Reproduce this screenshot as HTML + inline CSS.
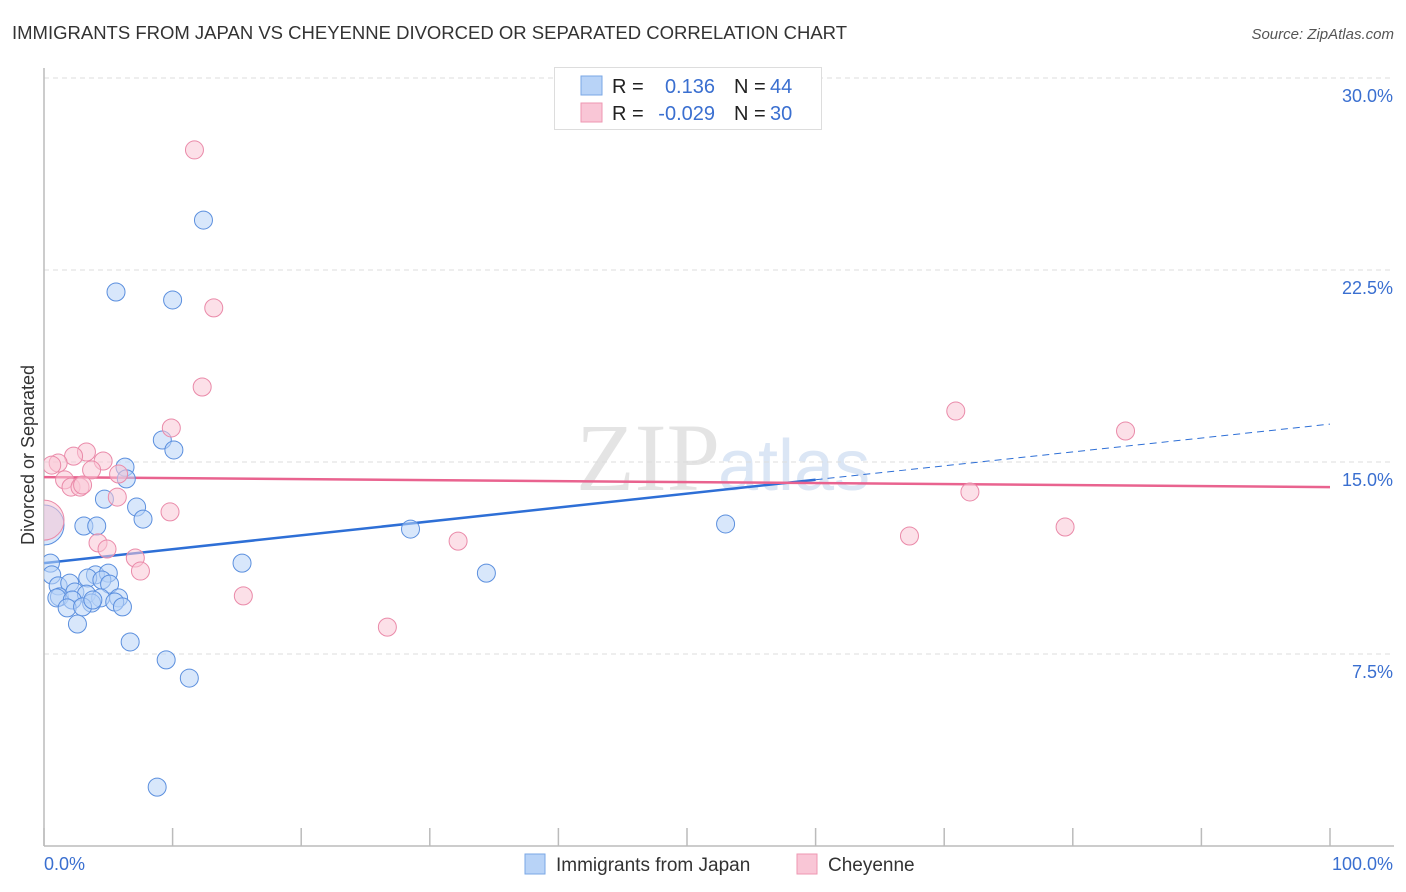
<!DOCTYPE html>
<html><head><meta charset="utf-8"><style>
body{margin:0;background:#fff;font-family:"Liberation Sans",sans-serif;}
#wrap{position:relative;width:1406px;height:892px;overflow:hidden;}
</style></head><body>
<div id="wrap">
<svg id="svg" width="1406" height="892" xmlns="http://www.w3.org/2000/svg" font-family="Liberation Sans, sans-serif">
<defs><clipPath id="plotclip"><rect x="44" y="60" width="1360" height="786"/></clipPath></defs>
<text x="12" y="39" font-size="18.5" fill="#333">IMMIGRANTS FROM JAPAN VS CHEYENNE DIVORCED OR SEPARATED CORRELATION CHART</text>
<text x="1394" y="39" font-size="15" fill="#555" font-style="italic" text-anchor="end">Source: ZipAtlas.com</text>
<text x="720" y="490" font-size="96" fill="#e4e4e4" text-anchor="end" font-family="Liberation Serif, serif">ZIP</text>
<text x="718" y="490" font-size="72" fill="#dbe6f5">atlas</text>
<text transform="translate(34,455) rotate(-90)" font-size="18" fill="#333" text-anchor="middle">Divorced or Separated</text>
<g id="grid"></g><g id="axes"></g><g id="trend"></g><g id="pts" clip-path="url(#plotclip)"></g>
<g>
<rect x="554.5" y="67.5" width="267" height="62" fill="#fff" stroke="#ddd"/>
<rect x="581" y="76" width="21" height="19" fill="#b8d3f7" stroke="#7aa7e6"/>
<rect x="581" y="103" width="21" height="19" fill="#f9c6d6" stroke="#ee97b2"/>
<text x="612" y="93" font-size="20" fill="#222">R =</text><text x="715" y="93" font-size="20" fill="#3a6fd0" text-anchor="end">0.136</text>
<text x="734" y="93" font-size="20" fill="#222">N =</text><text x="770" y="93" font-size="20" fill="#3a6fd0">44</text>
<text x="612" y="120" font-size="20" fill="#222">R =</text><text x="715" y="120" font-size="20" fill="#3a6fd0" text-anchor="end">-0.029</text>
<text x="734" y="120" font-size="20" fill="#222">N =</text><text x="770" y="120" font-size="20" fill="#3a6fd0">30</text>
</g>
<g>
<rect x="525" y="854" width="20" height="20" fill="#b8d3f7" stroke="#7aa7e6"/>
<text x="556" y="871" font-size="19" fill="#333">Immigrants from Japan</text>
<rect x="797" y="854" width="20" height="20" fill="#f9c6d6" stroke="#ee97b2"/>
<text x="828" y="871" font-size="19" fill="#333">Cheyenne</text>
</g>
</svg>
</div>
<script>
const blueX=[12.4,5.6,10.0,9.2,10.1,6.3,6.4,4.7,7.2,7.7,3.1,4.1,0.5,0.6,15.4,28.5,34.4,53.0,1.1,2.0,4.0,5.0,3.4,4.5,5.1,1.2,2.4,3.3,1.0,2.2,4.4,5.8,5.5,3.7,1.8,3.0,6.1,2.6,6.7,9.5,11.3,8.8,3.8,0.0];
const blueY=[24.45,21.64,21.33,15.86,15.47,14.80,14.34,13.55,13.24,12.77,12.5,12.5,11.05,10.59,11.05,12.38,10.66,12.58,10.16,10.27,10.59,10.66,10.47,10.39,10.23,9.73,9.92,9.84,9.69,9.61,9.69,9.69,9.53,9.49,9.30,9.34,9.34,8.67,7.97,7.27,6.56,2.30,9.61,12.54];
const pinkX=[11.7,13.2,12.3,9.9,70.9,84.1,3.3,2.3,1.1,0.6,4.6,3.7,5.8,1.6,2.1,2.8,5.7,72.0,9.8,0.0,4.2,4.9,7.1,7.5,32.2,67.3,79.4,15.5,26.7,3.0];
const pinkY=[27.19,21.02,17.93,16.33,16.99,16.21,15.39,15.23,14.96,14.88,15.04,14.69,14.53,14.30,14.02,14.02,13.63,13.83,13.05,12.73,11.84,11.60,11.25,10.74,11.91,12.11,12.46,9.77,8.55,14.1];
const blueTrend=[11.05,16.48];
const pinkTrend=[14.41,14.02];
const yTicks=[7.5,15,22.5,30];
const yTickLabels=["7.5%","15.0%","22.5%","30.0%"];
const xTicks=[0,10,20,30,40,50,60,70,80,90,100];

const NS="http://www.w3.org/2000/svg";
const sx=v=>44+v*12.86;
const sy=v=>846-v*192/7.5;
function mk(tag,attrs,parent){const e=document.createElementNS(NS,tag);for(const k in attrs)e.setAttribute(k,attrs[k]);parent.appendChild(e);return e;}
const grid=document.getElementById('grid'),axes=document.getElementById('axes'),trend=document.getElementById('trend'),pts=document.getElementById('pts');
yTicks.forEach((t,i)=>{
 const l=mk('line',{x1:44,x2:1394,y1:sy(t),y2:sy(t),stroke:'#ddd','stroke-dasharray':'5,4'},grid);
 
 
 const tx=mk('text',{x:1393,y:sy(t)+24,'font-size':18,fill:'#3a6fd0','text-anchor':'end'},axes);
 tx.textContent=yTickLabels[i];
 
 
});
const ax=mk('line',{x1:44,x2:44,y1:68,y2:846,stroke:'#bbb','stroke-width':1.5},axes);


const bx=mk('line',{x1:44,x2:1394,y1:846,y2:846,stroke:'#bbb','stroke-width':1.5},axes);


xTicks.forEach(t=>{
 const l=mk('line',{x1:sx(t),x2:sx(t),y1:828,y2:846,stroke:'#bbb','stroke-width':1.5},axes);
 
 
});
const x0=mk('text',{x:44,y:870,'font-size':18,fill:'#3a6fd0'},axes);x0.textContent='0.0%';


const x1=mk('text',{x:1393,y:870,'font-size':18,fill:'#3a6fd0','text-anchor':'end'},axes);x1.textContent='100.0%';



function drawPts(X,Y,fill,stroke,name){
 X.forEach((x,i)=>{
  const big=(x===0&&Math.abs(Y[i]-12.6)<0.2);
  const c=mk('circle',{cx:sx(x),cy:sy(Y[i]),r:big?20:9,fill:fill,stroke:stroke,'stroke-width':1,'fill-opacity':0.55},pts);
  
  
 });
}
drawPts(blueX,blueY,'#b8d3f7','#5b8fde','point-japan');
drawPts(pinkX,pinkY,'#f9c6d6','#ea8aa9','point-cheyenne');

const by=x=>blueTrend[0]+(blueTrend[1]-blueTrend[0])*x/100;
const t1=mk('line',{x1:sx(0),y1:sy(by(0)),x2:sx(60),y2:sy(by(60)),stroke:'#2e6fd6','stroke-width':2.5},trend);


const t2=mk('line',{x1:sx(60),y1:sy(by(60)),x2:sx(100),y2:sy(by(100)),stroke:'#2e6fd6','stroke-width':1,'stroke-dasharray':'7,5'},trend);


const t3=mk('line',{x1:sx(0),y1:sy(pinkTrend[0]),x2:sx(100),y2:sy(pinkTrend[1]),stroke:'#e9638f','stroke-width':2.5},trend);


</script>
</body></html>
